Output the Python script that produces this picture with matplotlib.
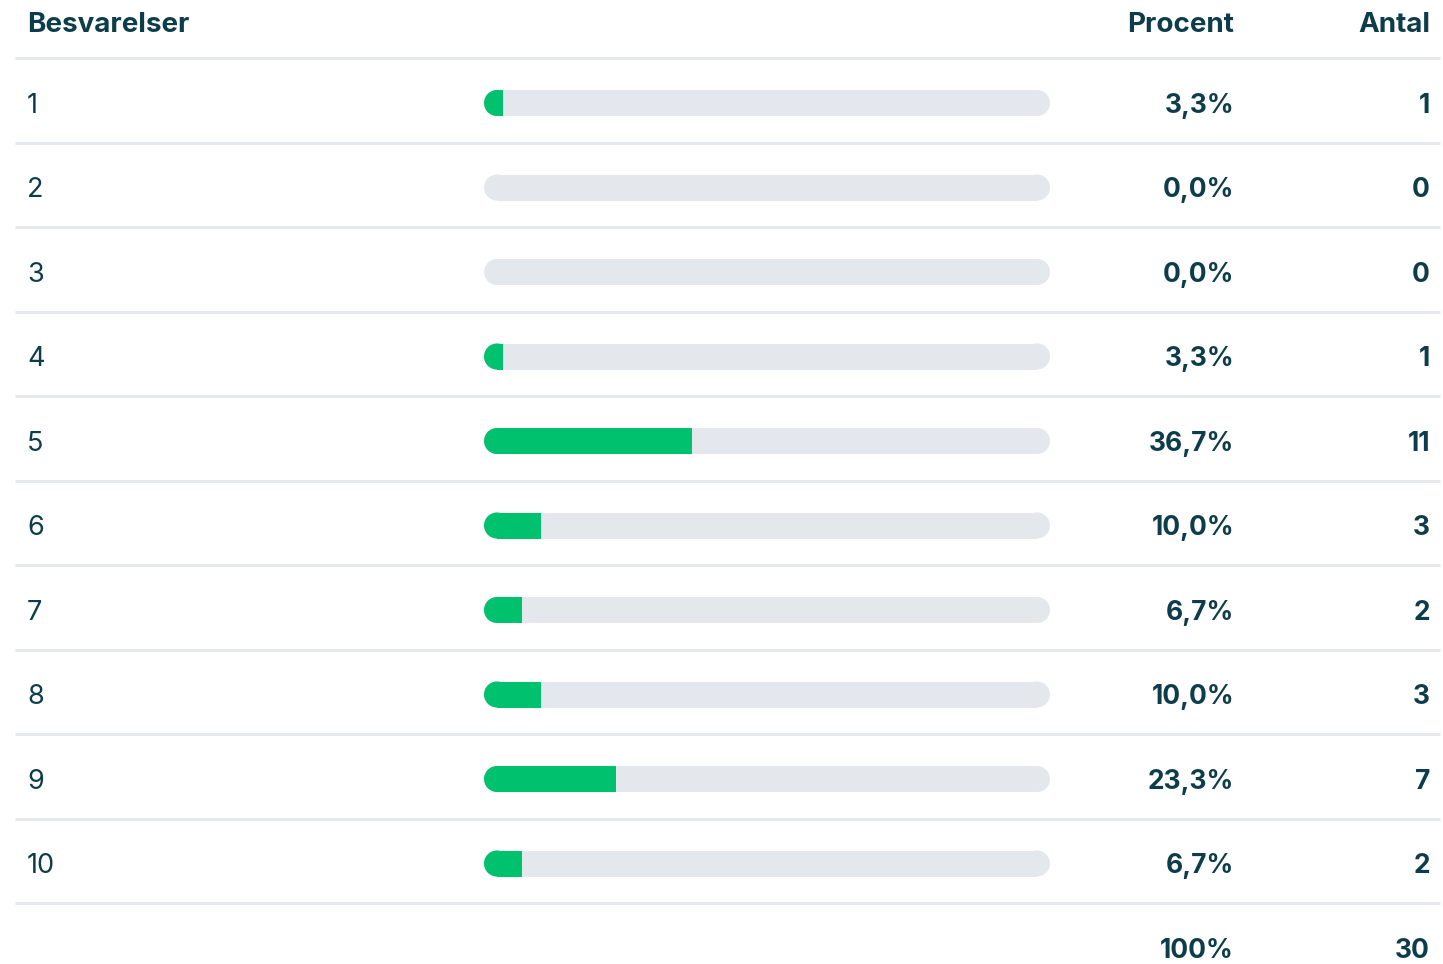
import matplotlib
matplotlib.use("Agg")
import matplotlib.pyplot as plt
from matplotlib.patches import Ellipse, Rectangle

# ---- data ----
categories = ["1", "2", "3", "4", "5", "6", "7", "8", "9", "10"]
percent = [3.3, 0.0, 0.0, 3.3, 36.7, 10.0, 6.7, 10.0, 23.3, 6.7]
counts = [1, 0, 0, 1, 11, 3, 2, 3, 7, 2]
percent_labels = ["3,3%", "0,0%", "0,0%", "3,3%", "36,7%", "10,0%", "6,7%", "10,0%", "23,3%", "6,7%"]
headers = ["Besvarelser", "Procent", "Antal"]
total_percent_label = "100%"
total_count = 30

# ---- style ----
W, H = 1443, 964
DPI = 100
TEXT = "#0d3d4a"
TRACK = "#e4e7eb"
GREEN = "#00c16e"
DIVIDER = "#e5e8ec"
FONT = ["Inter", "DejaVu Sans"]

plt.rcParams["font.family"] = FONT

fig = plt.figure(figsize=(W / DPI, H / DPI), dpi=DPI)
fig.patch.set_facecolor("white")

row0_px = 103.0
row_px = 84.5
ylim = ((H - row0_px) / row_px, (0 - row0_px) / row_px)

ax = fig.add_axes([0, 0, 1, 1])
ax.set_xlim(0, W)
ax.set_ylim(*ylim)
ax.axis("off")

bx0, bx1 = 484, 1050
axb = fig.add_axes([bx0 / W, 0, (bx1 - bx0) / W, 1])
axb.set_xlim(0, 100)
axb.set_ylim(*ylim)
axb.axis("off")

bar_h_px = 26
bar_h = bar_h_px / row_px
x_unit_px = (bx1 - bx0) / 100.0
rx = (bar_h_px / 2) / x_unit_px
ry = bar_h / 2

n = len(categories)
ys = list(range(n))
toff = 0.035  # visual baseline nudge for text (rows)

hy = (25 - row0_px) / row_px
ax.text(27, hy, headers[0], fontsize=20, fontweight="bold", color=TEXT, ha="left", va="center")
ax.text(1234, hy, headers[1], fontsize=20, fontweight="bold", color=TEXT, ha="right", va="center")
ax.text(1430, hy, headers[2], fontsize=20, fontweight="bold", color=TEXT, ha="right", va="center")

for k in range(n + 1):
    yd = k - 0.53
    ax.plot([15, 1440], [yd, yd], color=DIVIDER, lw=2.2, solid_capstyle="butt", zorder=1)


def capsule(axis, y, x_end, color, z, right_round):
    e = Ellipse((rx, y), 2 * rx, 2 * ry, facecolor=color, edgecolor="none", zorder=z)
    axis.add_patch(e)
    body_end = x_end - rx if right_round else x_end
    r = Rectangle((rx, y - ry), max(body_end - rx, 0), bar_h, facecolor=color,
                  edgecolor="none", zorder=z, antialiased=True)
    axis.add_patch(r)
    if right_round:
        e2 = Ellipse((x_end - rx, y), 2 * rx, 2 * ry, facecolor=color, edgecolor="none", zorder=z)
        axis.add_patch(e2)
    else:
        clip = Rectangle((0, y - ry - 0.05), x_end, bar_h + 0.1, transform=axis.transData)
        e.set_clip_path(clip)


for i, (cat, p, c, pl) in enumerate(zip(categories, percent, counts, percent_labels)):
    y = ys[i]
    ax.text(27, y + toff, cat, fontsize=19.5, color=TEXT, ha="left", va="center")
    ax.text(1234, y + toff, pl, fontsize=19, fontweight="bold", color=TEXT, ha="right", va="center")
    ax.text(1430, y + toff, str(c), fontsize=19, fontweight="bold", color=TEXT, ha="right", va="center")

    capsule(axb, y, 100, TRACK, 2, True)
    if p > 0:
        capsule(axb, y, p, GREEN, 3, False)

ty = n
ax.text(1234, ty + toff, total_percent_label, fontsize=19, fontweight="bold", color=TEXT, ha="right", va="center")
ax.text(1430, ty + toff, str(total_count), fontsize=19, fontweight="bold", color=TEXT, ha="right", va="center")

fig.savefig("out.png", dpi=DPI, facecolor="white")
